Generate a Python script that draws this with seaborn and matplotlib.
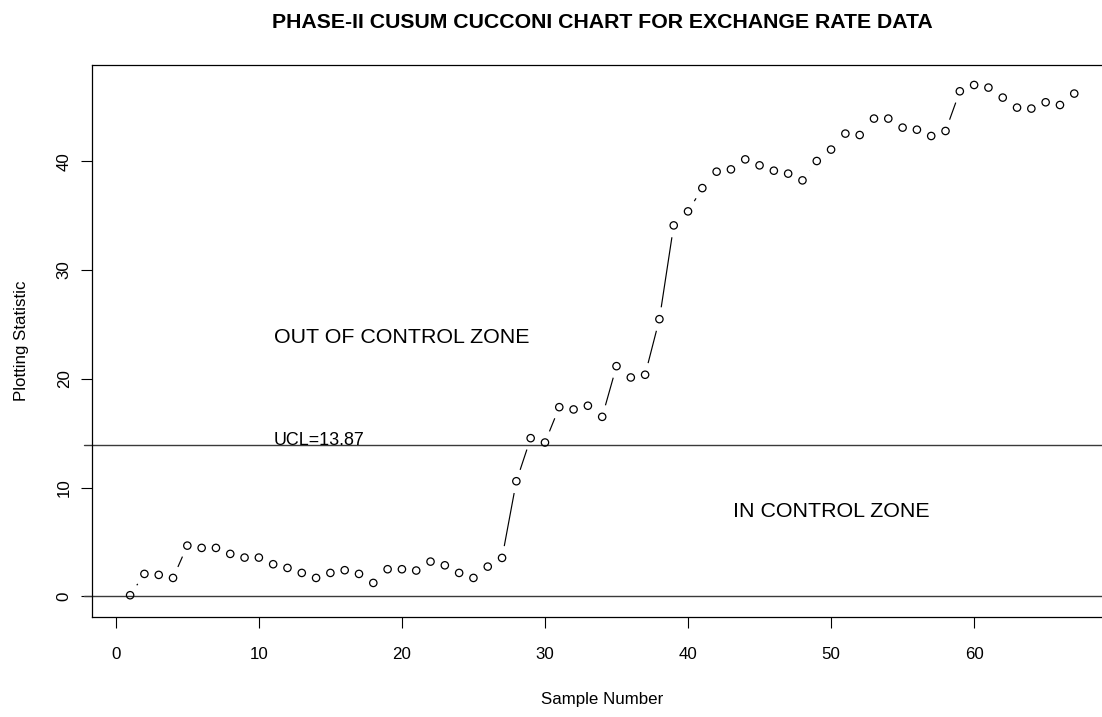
# %%
import matplotlib
matplotlib.use('Agg')
import matplotlib.pyplot as plt
import numpy as np
import pandas as pd
import seaborn as sns
from matplotlib.collections import LineCollection

# %% data
sample = list(range(1, 68))
stat = [0.10, 2.06, 1.97, 1.69, 4.66, 4.45, 4.45, 3.90, 3.56, 3.56,
        2.95, 2.61, 2.15, 1.69, 2.15, 2.40, 2.06, 1.23, 2.49, 2.49,
        2.37, 3.19, 2.85, 2.15, 1.69, 2.73, 3.53, 10.58, 14.54, 14.14,
        17.39, 17.18, 17.52, 16.50, 21.16, 20.12, 20.37, 25.48, 34.10, 35.39,
        37.53, 39.04, 39.25, 40.17, 39.62, 39.13, 38.86, 38.24, 40.02, 41.07,
        42.54, 42.41, 43.92, 43.92, 43.09, 42.90, 42.32, 42.78, 46.43, 47.01,
        46.77, 45.85, 44.93, 44.84, 45.42, 45.17, 46.22]
ucl = 13.87
x_ticks = [0, 10, 20, 30, 40, 50, 60]
y_ticks = [0, 10, 20, 30, 40]

title = 'PHASE-II CUSUM CUCCONI CHART FOR EXCHANGE RATE DATA'
ucl_label = 'UCL=13.87'
out_label = 'OUT OF CONTROL ZONE'
in_label = 'IN CONTROL ZONE'

# where the annotations sit (data units)
ucl_text_x = 11
out_xy = (20, 24)
in_xy = (50, 8)

GAP_PX = 12  # gap left around each point, like R type="b"

# %%
sns.set_theme(style='ticks')
plt.rcParams['font.family'] = ['Liberation Sans', 'DejaVu Sans']
plt.rcParams['text.color'] = 'black'
plt.rcParams['axes.labelcolor'] = 'black'

fig = plt.figure(figsize=(11.02, 7.17), dpi=100)
ax = fig.add_axes([0.0838, 0.1398, 0.9253, 0.7702])

df = pd.DataFrame({'Sample Number': sample, 'Plotting Statistic': stat})
sns.scatterplot(data=df, x='Sample Number', y='Plotting Statistic', ax=ax,
                marker='o', s=28, facecolors='none', edgecolor='black',
                linewidth=0.9, zorder=3)

# R style 4% extension of the data range
xr = max(sample) - min(sample)
yr = max(stat) - 0
ax.set_xlim(min(sample) - 0.04 * xr, max(sample) + 0.04 * xr)
ax.set_ylim(0 - 0.04 * yr, max(stat) + 0.04 * yr)

# connecting segments with gaps around the points
pts = ax.transData.transform(np.column_stack([sample, stat]))
inv = ax.transData.inverted()
segs = []
for p, q in zip(pts[:-1], pts[1:]):
    d = q - p
    L = np.hypot(d[0], d[1])
    if L > 2 * GAP_PX:
        u = d / L
        segs.append(inv.transform(np.array([p + u * GAP_PX, q - u * GAP_PX])))
ax.add_collection(LineCollection(segs, colors='black', linewidths=0.85,
                                 capstyle='butt', zorder=2))

# control lines
ax.axhline(ucl, color='#3a3a3a', lw=1.0, xmin=-0.008, clip_on=False, zorder=1)
ax.axhline(0, color='#3a3a3a', lw=1.0, xmin=-0.008, clip_on=False, zorder=1)

ax.text(ucl_text_x, ucl, ucl_label, ha='left', va='baseline', fontsize=12.9)
ax.text(out_xy[0], out_xy[1], out_label, ha='center', va='center_baseline', fontsize=15.4)
ax.text(in_xy[0], in_xy[1], in_label, ha='center', va='center_baseline', fontsize=15.4)

# axes
ax.set_xticks(x_ticks)
ax.set_yticks(y_ticks)
for s in ax.spines.values():
    s.set_color('black')
    s.set_linewidth(0.9)
ax.tick_params(axis='both', direction='out', length=7.9, width=0.8,
               color='black', labelsize=12.2, labelcolor='black')
ax.tick_params(axis='x', pad=14)
ax.tick_params(axis='y', pad=7)
plt.setp(ax.get_yticklabels(), rotation=90, va='center')

ax.set_xlabel('Sample Number', fontsize=12.2)
ax.xaxis.set_label_coords(0.5, -0.136)
ax.set_ylabel('Plotting Statistic', fontsize=12.2)
ax.yaxis.set_label_coords(-0.0625, 0.5)

ax.set_title(title, fontsize=15.3, fontweight='bold', pad=26.5)

fig.savefig('out.png', dpi=100)
